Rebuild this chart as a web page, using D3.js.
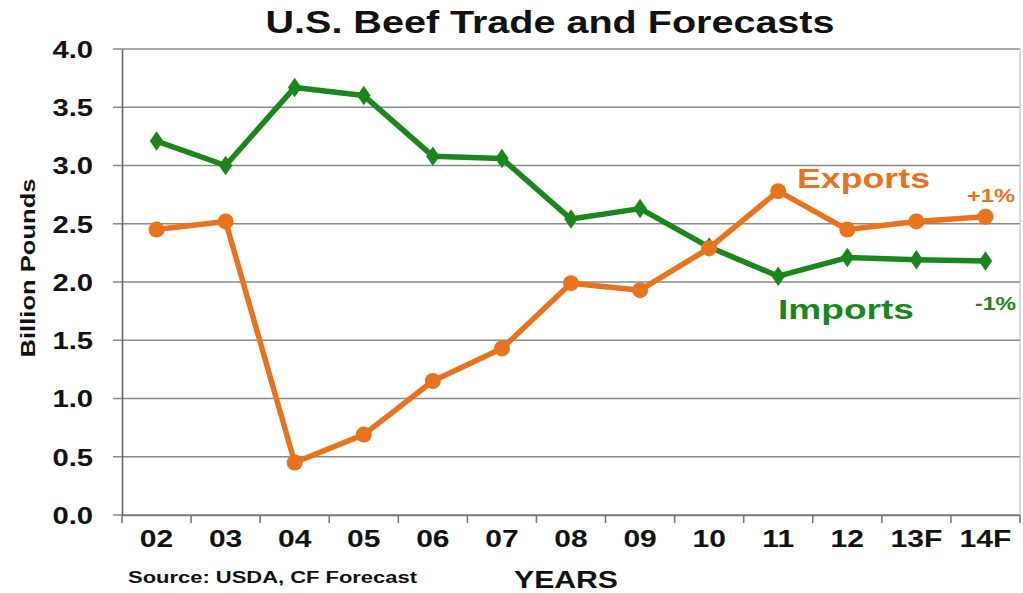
<!DOCTYPE html>
<html><head><meta charset="utf-8">
<script src="https://cdn.jsdelivr.net/npm/d3@7/dist/d3.min.js"></script>
<style>body{margin:0;background:#fff;} svg{display:block;font-family:"Liberation Sans",Arial,sans-serif;}</style>
</head><body>
<script>
const years = ["02","03","04","05","06","07","08","09","10","11","12","13F","14F"];
const exportsVals = [2.45,2.52,0.45,0.69,1.15,1.43,1.99,1.93,2.29,2.78,2.45,2.52,2.56];
const importsVals = [3.21,3.00,3.67,3.60,3.08,3.06,2.54,2.63,2.30,2.05,2.21,2.19,2.18];
const yTicks = [0,0.5,1.0,1.5,2.0,2.5,3.0,3.5,4.0];

const W=1023,H=593;
const m={l:122,r:1020,t:49,b:515};
const orange="#E8731E", green="#1B861B";
const svg=d3.select("body").append("svg").attr("width",W).attr("height",H);

function widen(sel,f){ sel.each(function(){ const L=this.getComputedTextLength(); d3.select(this).attr("textLength",L*f).attr("lengthAdjust","spacingAndGlyphs"); }); }
function fit(sel,len){ sel.attr("textLength",len).attr("lengthAdjust","spacingAndGlyphs"); }

const x=d3.scaleBand().domain(years).range([m.l,m.r]);
const y=d3.scaleLinear().domain([0,4]).range([m.b,m.t]);

// gridlines
svg.append("g").selectAll("line").data(yTicks).join("line")
 .attr("x1",m.l-9).attr("x2",m.r).attr("y1",d=>y(d)).attr("y2",d=>y(d))
 .attr("stroke","#8a8a8a").attr("stroke-width",1.6);
svg.append("line").attr("x1",m.r).attr("x2",m.r).attr("y1",m.t).attr("y2",m.b).attr("stroke","#bbb").attr("stroke-width",1);

// y axis
const ya=svg.append("g").attr("transform",`translate(${m.l},0)`)
 .call(d3.axisLeft(y).tickValues(yTicks).tickFormat(d3.format(".1f")).tickSize(0).tickPadding(29));
ya.select(".domain").attr("stroke","#666").attr("stroke-width",1.6);
ya.selectAll("text").attr("font-size",23).attr("font-weight","bold").attr("fill","#111").attr("dy","0.36em").call(widen,1.27);

// x axis
const xa=svg.append("g").attr("transform",`translate(0,${m.b})`)
 .call(d3.axisBottom(x).tickSize(0).tickPadding(15));
xa.select(".domain").attr("stroke","#777").attr("stroke-width",1.6);
xa.selectAll("text").attr("font-size",24).attr("font-weight","bold").attr("fill","#111").call(widen,1.25);
const bnd=years.map(d=>x(d)).concat([m.r]);
svg.append("g").selectAll("line").data(bnd).join("line")
 .attr("x1",d=>d).attr("x2",d=>d).attr("y1",m.b).attr("y2",m.b+8)
 .attr("stroke","#777").attr("stroke-width",1.6);

const cx=d=>x(d)+x.bandwidth()/2;
const line=d3.line().x((d,i)=>cx(years[i])).y(d=>y(d));

svg.append("path").datum(importsVals).attr("d",line).attr("fill","none").attr("stroke",green).attr("stroke-width",5.5).attr("stroke-linejoin","round");
svg.append("g").selectAll("path").data(importsVals).join("path")
 .attr("d",d3.symbol(d3.symbolDiamond,110)).attr("transform",(d,i)=>`translate(${cx(years[i])},${y(d)}) scale(1.2,1)`).attr("fill",green);

svg.append("path").datum(exportsVals).attr("d",line).attr("fill","none").attr("stroke",orange).attr("stroke-width",5.5).attr("stroke-linejoin","round");
svg.append("g").selectAll("circle").data(exportsVals).join("circle")
 .attr("cx",(d,i)=>cx(years[i])).attr("cy",d=>y(d)).attr("r",8).attr("fill",orange);

// title
svg.append("text").attr("x",550).attr("y",33).attr("text-anchor","middle").attr("font-size",31).attr("font-weight","bold").attr("fill","#111").text("U.S. Beef Trade and Forecasts").call(fit,569);
// y title
svg.append("text").attr("transform","translate(35,268) rotate(-90)").attr("text-anchor","middle").attr("font-size",20).attr("font-weight","bold").attr("fill","#111").text("Billion Pounds").call(fit,179);
// x title
svg.append("text").attr("x",566).attr("y",588).attr("text-anchor","middle").attr("font-size",24).attr("font-weight","bold").attr("fill","#111").text("YEARS").call(fit,104);
// source
svg.append("text").attr("x",128).attr("y",583).attr("font-size",16).attr("font-weight","bold").attr("fill","#111").text("Source: USDA, CF Forecast").call(fit,289);

// annotations
svg.append("text").attr("x",797).attr("y",188).attr("font-size",28).attr("fill",orange).attr("font-weight","bold").text("Exports").call(fit,133);
svg.append("text").attr("x",967).attr("y",202).attr("font-size",19).attr("fill",orange).attr("font-weight","bold").text("+1%").call(fit,48);
svg.append("text").attr("x",778).attr("y",319).attr("font-size",28).attr("fill",green).attr("font-weight","bold").text("Imports").call(fit,136);
svg.append("text").attr("x",975).attr("y",310).attr("font-size",19).attr("fill",green).attr("font-weight","bold").text("-1%").call(fit,41);
</script>
</body></html>
